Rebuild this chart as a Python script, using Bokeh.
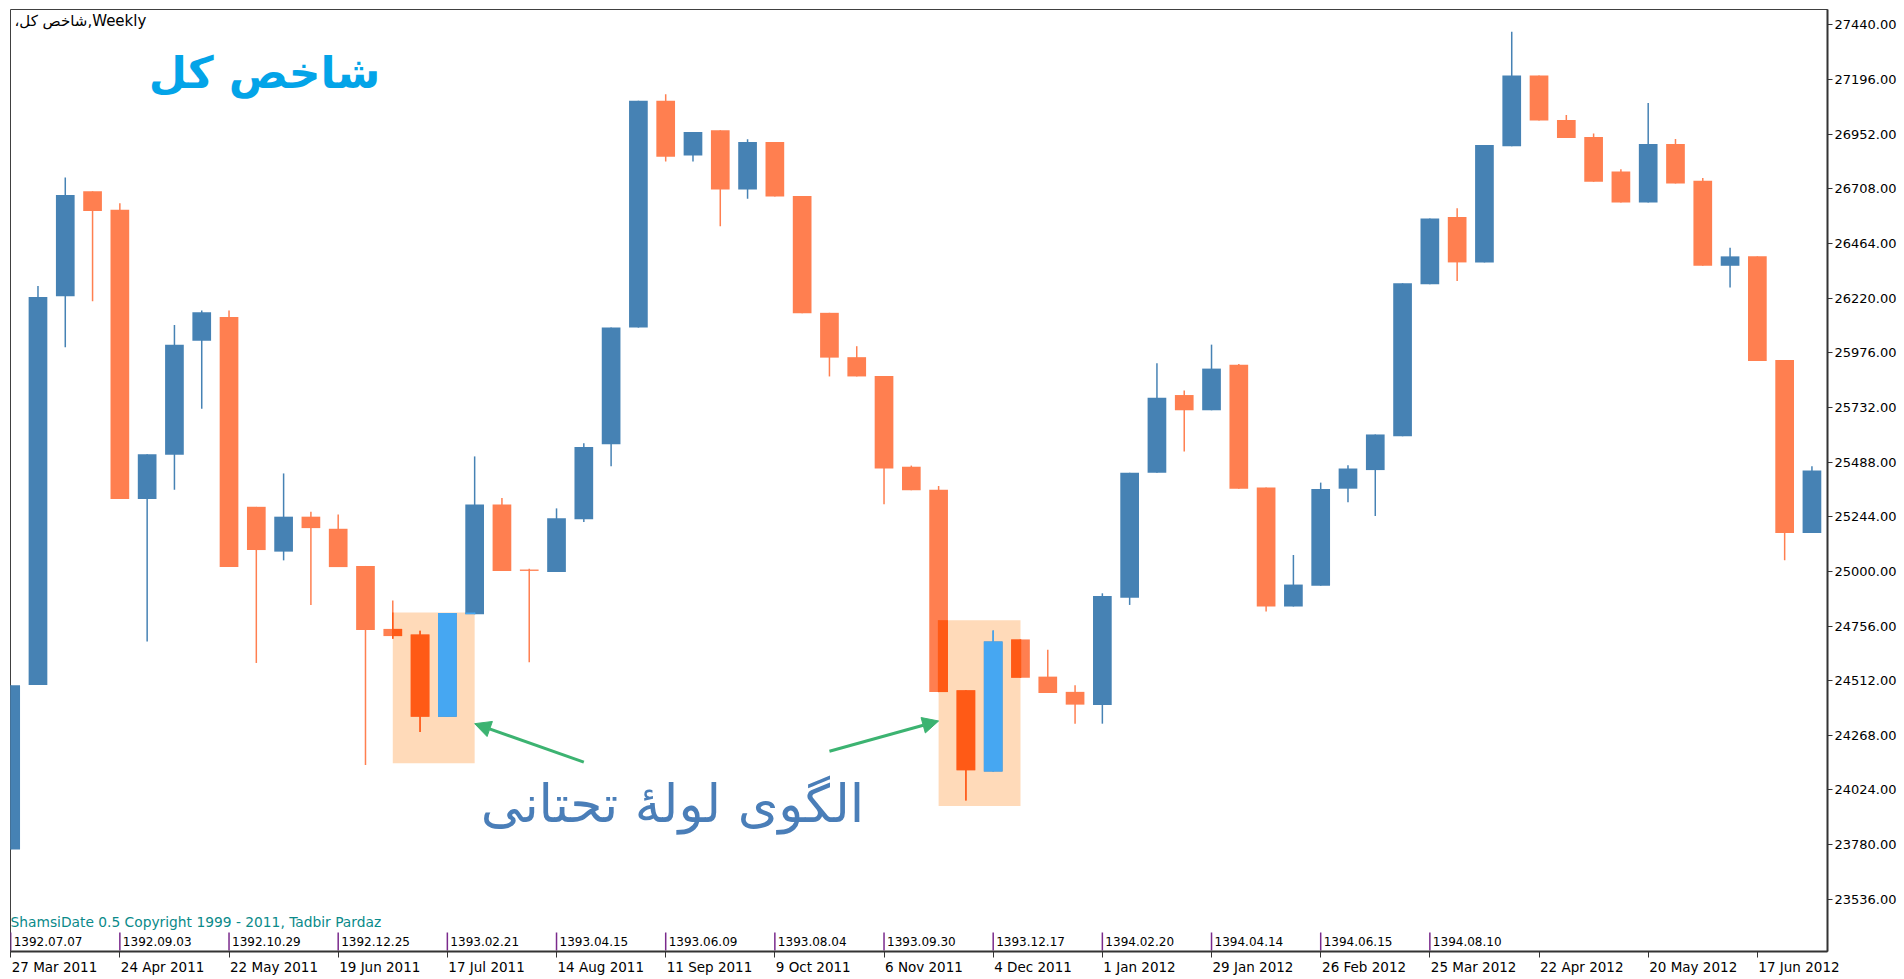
import numpy as np
from bokeh.plotting import figure
from bokeh.models import (Range1d, FixedTicker, NumeralTickFormatter, ColumnDataSource,
                          Label, Arrow, NormalHead, LinearAxis)
from bokeh.embed import file_html
from bokeh.resources import INLINE
from bokeh.core.properties import value

# ---------------- data (weekly OHLC) ----------------
opens = [23758, 24493, 26228, 26697, 26614, 25323, 25521, 26029, 26135, 25288,
         25088, 25244, 25190, 25024, 24743, 24718, 24351, 24809, 25298, 25007,
         24997, 25232, 25567, 26088, 27101, 26856, 26969, 26704, 26917, 26675,
         26154, 25956, 25872, 25467, 25364, 24469, 24107, 24696, 24530, 24462,
         24403, 24882, 25440, 25787, 25719, 25922, 25374, 24843, 24936, 25369,
         25452, 25603, 26282, 26582, 26379, 26898, 27213, 27015, 26939, 26785,
         26646, 26908, 26744, 26364, 26406, 25943, 25171]
highs = [24491, 26274, 26758, 26697, 26643, 25523, 26100, 26164, 26164, 25288,
         25437, 25266, 25254, 25024, 24870, 24735, 24814, 25513, 25327, 25012,
         25281, 25572, 26088, 27101, 27130, 26961, 26969, 26929, 26917, 26675,
         26154, 26005, 25872, 25472, 25381, 24469, 24736, 24696, 24650, 24491,
         24902, 25440, 25929, 25807, 26012, 25925, 25374, 25073, 25396, 25474,
         25611, 26286, 26575, 26621, 26903, 27409, 27213, 27037, 26954, 26795,
         27091, 26930, 26756, 26445, 26406, 25943, 25469]
lows = [23758, 24493, 26000, 26206, 25323, 24687, 25364, 25726, 25019, 24591,
        25049, 24850, 25019, 24136, 24699, 24283, 24351, 24809, 25002, 24594,
        24997, 25220, 25469, 26088, 26829, 26829, 26541, 26663, 26673, 26152,
        25870, 25870, 25300, 25362, 24461, 23977, 24107, 24525, 24457, 24320,
        24320, 24850, 25440, 25535, 25719, 25369, 24821, 24843, 24936, 25308,
        25247, 25603, 26282, 26296, 26379, 26898, 27013, 26934, 26739, 26646,
        26646, 26731, 26364, 26267, 25939, 25049, 25171]
closes = [24491, 26225, 26680, 26609, 25323, 25523, 26012, 26157, 25019, 25095,
          25244, 25193, 25019, 24738, 24711, 24351, 24814, 25298, 25002, 25002,
          25237, 25555, 26088, 27101, 26851, 26961, 26704, 26917, 26673, 26152,
          25954, 25870, 25459, 25362, 24461, 24112, 24687, 24525, 24457, 24405,
          24890, 25440, 25775, 25719, 25905, 25369, 24843, 24941, 25367, 25459,
          25611, 26286, 26575, 26379, 26903, 27213, 27013, 26934, 26739, 26646,
          26908, 26731, 26364, 26406, 25939, 25171, 25450]

date_tick_bars = [0, 4, 8, 12, 16, 20, 24, 28, 32, 36, 40, 44, 48, 52, 56, 60, 64]
date_labels = ["27 Mar 2011", "24 Apr 2011", "22 May 2011", "19 Jun 2011", "17 Jul 2011",
               "14 Aug 2011", "11 Sep 2011", "9 Oct 2011", "6 Nov 2011", "4 Dec 2011",
               "1 Jan 2012", "29 Jan 2012", "26 Feb 2012", "25 Mar 2012", "22 Apr 2012",
               "20 May 2012", "17 Jun 2012"]
shamsi_bars = [0, 4, 8, 12, 16, 20, 24, 28, 32, 36, 40, 44, 48, 52]
shamsi_labels = ["1392.07.07", "1392.09.03", "1392.10.29", "1392.12.25", "1393.02.21",
                 "1393.04.15", "1393.06.09", "1393.08.04", "1393.09.30", "1393.12.17",
                 "1394.02.20", "1394.04.14", "1394.06.15", "1394.08.10"]
price_ticks = [23536, 23780, 24024, 24268, 24512, 24756, 25000, 25244, 25488,
               25732, 25976, 26220, 26464, 26708, 26952, 27196, 27440]

# pattern boxes (bar from, bar to, price top, price bottom)
box_x0 = [14, 34]
box_x1 = [17, 37]
box_top = [24816, 24782]
box_bot = [24143, 23953]

# arrows (tail bar, tail price, head bar, head price)
arrows = [(21, 24148, 17, 24320), (30, 24197, 34, 24332)]

# ---------------- styles ----------------
BULL = "#4682B4"
BEAR = "#FF7F50"
BOX = "#FFDAB9"
GREEN = "#3CB371"
FONT = "DejaVu Sans"
BW = 0.685

mask = 0xFFFFFF ^ int(BOX[1:], 16)


def xor_col(c):
    return "#%06X" % (int(c[1:], 16) ^ mask)


n = len(opens)
idx = np.arange(n)
o = np.array(opens, float)
h = np.array(highs, float)
l = np.array(lows, float)
c = np.array(closes, float)
bull = c >= o
cols = [BULL if b else BEAR for b in bull]
body_lo = np.minimum(o, c)
body_hi = np.maximum(o, c)
body_hi = np.maximum(body_hi, body_lo + 6)

src = ColumnDataSource(dict(x=idx, o=o, h=h, l=l, c=c, lo=body_lo, hi=body_hi,
                            left=idx - BW / 2, right=idx + BW / 2, col=cols))

W, H = 1902, 977
FL, FT, FR, FB = 10, 9, 1827, 952          # frame edges in page pixels
BL, BT, BR, BB = FL, FT, W - FR, H - FB
FH = FB - FT
FW = FR - FL
Y0, Y1 = 23303, 27508
X0, X1 = -0.007, 66.57
PX_PER_BAR = FW / (X1 - X0)

p = figure(width=W, height=H, x_range=Range1d(X0, X1), y_range=Range1d(Y0, Y1),
           output_backend="svg", toolbar_location=None, y_axis_location="right",
           min_border_left=BL, min_border_top=BT, min_border_right=BR, min_border_bottom=BB,
           background_fill_color="white", border_fill_color="white")
p.grid.visible = False
p.outline_line_color = "#404040"
p.outline_line_width = 1


def y_px(px):
    """price at px pixels above the frame bottom"""
    return Y0 + px * (Y1 - Y0) / FH


# x axis: tick marks at the date bars
p.xaxis.ticker = FixedTicker(ticks=date_tick_bars)
p.xaxis.major_label_overrides = {t: "" for t in date_tick_bars}
p.xaxis.major_label_text_font_size = "1px"
p.xaxis.major_tick_out = 6
p.xaxis.major_tick_in = 0
p.xaxis.minor_tick_line_color = None
p.xaxis.axis_line_color = "#333333"
p.xaxis.axis_line_width = 2
p.xaxis.major_tick_line_color = "#333333"
p.xaxis.major_label_standoff = 0

# second (label-only) x axis: labels start at their tick like the terminal draws them
CW = {" ": 0.318, "M": 0.863, "a": 0.613, "r": 0.411, "A": 0.684, "p": 0.635, "y": 0.592,
      "J": 0.295, "u": 0.634, "n": 0.634, "l": 0.278, "S": 0.635, "e": 0.615, "O": 0.787,
      "c": 0.550, "t": 0.392, "N": 0.748, "o": 0.612, "v": 0.592, "D": 0.770, "F": 0.575,
      "b": 0.635, "g": 0.635}
DATE_FS = 13.5


def text_w(s):
    return sum(CW.get(ch, 0.636) for ch in s) * DATE_FS


lab_pos = [round(t + (text_w(s) / 2 + 1) / PX_PER_BAR, 4) for t, s in zip(date_tick_bars, date_labels)]
ax2 = LinearAxis(ticker=FixedTicker(ticks=lab_pos),
                 major_label_overrides={pp: s for pp, s in zip(lab_pos, date_labels)},
                 axis_line_color=None, major_tick_line_color=None, minor_tick_line_color=None,
                 major_tick_out=0, major_tick_in=0, major_label_standoff=1,
                 major_label_text_font=FONT, major_label_text_font_size=f"{DATE_FS}px",
                 major_label_text_color="black")
p.add_layout(ax2, "below")

# y axis
p.yaxis.ticker = FixedTicker(ticks=price_ticks)
p.yaxis.formatter = NumeralTickFormatter(format="0.00")
p.yaxis.major_tick_out = 5
p.yaxis.major_tick_in = 0
p.yaxis.minor_tick_line_color = None
p.yaxis.axis_line_color = "#333333"
p.yaxis.axis_line_width = 2
p.yaxis.major_tick_line_color = "#333333"
p.yaxis.major_label_standoff = 2
p.yaxis.major_label_text_font = FONT
p.yaxis.major_label_text_font_size = "13px"
p.yaxis.major_label_text_color = "black"

# pattern boxes (behind)
p.quad(left=box_x0, right=box_x1, top=box_top, bottom=box_bot,
       fill_color=BOX, line_color=None)

# candles
p.segment(x0="x", x1="x", y0="l", y1="h", source=src, line_color="col", line_width=1.5)
p.quad(left="left", right="right", bottom="lo", top="hi", source=src,
       fill_color="col", line_color=None)

# inverted-colour parts inside the boxes
bq = dict(left=[], right=[], bottom=[], top=[], col=[])
ws = dict(x=[], y0=[], y1=[], col=[])
for bx0, bx1, bt, bb in zip(box_x0, box_x1, box_top, box_bot):
    for i in range(n):
        L = max(i - BW / 2, bx0)
        R = min(i + BW / 2, bx1)
        B = max(body_lo[i], bb)
        T = min(body_hi[i], bt)
        if L < R and B < T:
            bq["left"].append(L); bq["right"].append(R)
            bq["bottom"].append(B); bq["top"].append(T)
            bq["col"].append(xor_col(cols[i]))
        if bx0 <= i <= bx1:
            B = max(l[i], bb)
            T = min(h[i], bt)
            if B < T:
                ws["x"].append(i); ws["y0"].append(B); ws["y1"].append(T)
                ws["col"].append(xor_col(cols[i]))
p.segment(x0="x", x1="x", y0="y0", y1="y1", source=ColumnDataSource(ws),
          line_color="col", line_width=1.5)
p.quad(left="left", right="right", bottom="bottom", top="top",
       source=ColumnDataSource(bq), fill_color="col", line_color=None)

# arrows
for xs, ys, xe, ye in arrows:
    p.add_layout(Arrow(x_start=xs, y_start=ys, x_end=xe, y_end=ye,
                       line_color=GREEN, line_width=3,
                       end=NormalHead(size=16, fill_color=GREEN, line_color=GREEN)))

# shamsi date row inside the chart
sh_src = ColumnDataSource(dict(x=shamsi_bars, lab=shamsi_labels,
                               y0=[y_px(1)] * len(shamsi_bars),
                               y1=[y_px(19)] * len(shamsi_bars),
                               ym=[y_px(10)] * len(shamsi_bars)))
p.segment(x0="x", x1="x", y0="y0", y1="y1", source=sh_src,
          line_color="#7A2A8C", line_width=1.5)
p.text(x="x", y="ym", text="lab", source=sh_src, x_offset=3,
       text_font=value(FONT), text_font_size="12px", text_color="black",
       text_align="left", text_baseline="middle")

# texts
p.add_layout(Label(x=4, y=FH - 12, x_units="screen", y_units="screen",
                   text="شاخص کل،\u200f,Weekly", text_font=FONT, text_font_size="15px",
                   text_color="black", text_align="left", text_baseline="middle"))
p.add_layout(Label(x=254, y=FH - 64, x_units="screen", y_units="screen",
                   text="شاخص کل", text_font=FONT, text_font_size="44px",
                   text_font_style="bold", text_color="#03A4E8",
                   text_align="center", text_baseline="middle"))
p.add_layout(Label(x=0, y=30, x_units="screen", y_units="screen",
                   text="ShamsiDate 0.5 Copyright 1999 - 2011, Tadbir Pardaz",
                   text_font=FONT, text_font_size="13.8px", text_color="#0A8A8A",
                   text_align="left", text_baseline="middle"))
p.add_layout(Label(x=24.25, y=23960, text="الگوی لولهٔ تحتانی", text_font=FONT,
                   text_font_size="52px", text_color="#4A7EB8",
                   text_align="center", text_baseline="middle"))

open("out.html", "w").write(file_html(p, INLINE))
